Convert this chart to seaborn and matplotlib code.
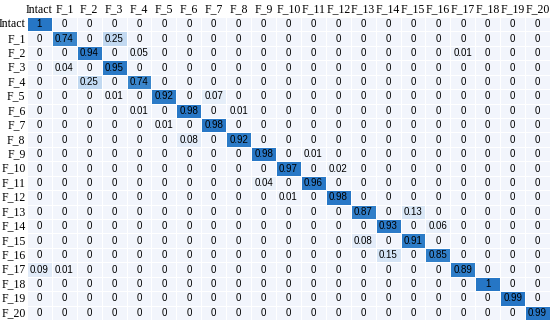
import numpy as np
import pandas as pd
import matplotlib
matplotlib.use("Agg")
import matplotlib.pyplot as plt
import seaborn as sns
from matplotlib.colors import LinearSegmentedColormap

# ------------------------------
# DATA
# ------------------------------
labels = ["Intact"] + ["F_%d" % i for i in range(1, 21)]

# diagonal + off-diagonal entries: (row, col, value)
diag_vals = [1, 0.74, 0.94, 0.95, 0.74, 0.92, 0.98, 0.98, 0.92, 0.98, 0.97,
             0.96, 0.98, 0.87, 0.93, 0.91, 0.85, 0.89, 1, 0.99, 0.99]
off_rows = [1, 2, 2, 3, 4, 5, 5, 6, 6, 7, 8, 9, 10, 11, 12, 13, 14, 15, 16, 17, 17]
off_cols = [3, 4, 17, 1, 2, 3, 7, 4, 8, 5, 6, 11, 12, 9, 10, 15, 16, 13, 14, 0, 1]
off_vals = [0.25, 0.05, 0.01, 0.04, 0.25, 0.01, 0.07, 0.01, 0.01, 0.01, 0.08,
            0.01, 0.02, 0.04, 0.01, 0.13, 0.06, 0.08, 0.15, 0.09, 0.01]

cm = np.zeros((21, 21))
for i, v in enumerate(diag_vals):
    cm[i, i] = v
for r, c, v in zip(off_rows, off_cols, off_vals):
    cm[r, c] = v

df = pd.DataFrame(cm, index=labels, columns=labels)
annot = df.map(lambda v: "%g" % v)

# ------------------------------
# PLOT
# ------------------------------
cmap = LinearSegmentedColormap.from_list(
    "cm_blues",
    [(0.0, "#f2f5fc"), (0.25, "#c2d9f1"), (0.74, "#3a86cc"), (1.0, "#2676c5")])

fig = plt.figure(figsize=(5.5, 3.22), dpi=100)
ax = fig.add_axes([0.049, 0.006, 0.951, 0.941])

sns.heatmap(df, annot=annot, fmt="", cmap=cmap, vmin=0, vmax=1, cbar=False,
            linewidths=0.6, linecolor="white", ax=ax,
            xticklabels=labels, yticklabels=labels,
            annot_kws={"fontsize": 7, "color": "black",
                       "family": "Liberation Sans"})

ax.xaxis.tick_top()
ax.tick_params(length=0, pad=1)
for t in ax.get_xticklabels() + ax.get_yticklabels():
    t.set_family("Liberation Serif")
    t.set_fontsize(8.5)
plt.setp(ax.get_xticklabels(), rotation=0)
plt.setp(ax.get_yticklabels(), rotation=0)
ax.set_xlabel("")
ax.set_ylabel("")

fig.savefig("out.png", dpi=100)
